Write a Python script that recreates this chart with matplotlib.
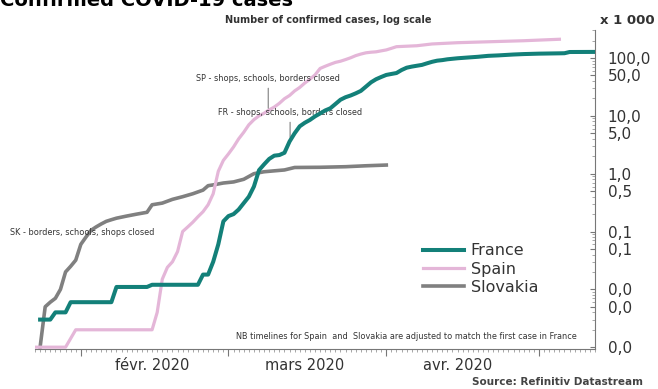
import matplotlib
matplotlib.use("Agg")
import matplotlib.pyplot as plt
import matplotlib.dates as mdates
import pandas as pd
from matplotlib.ticker import FixedLocator, LogLocator, NullFormatter, FuncFormatter

# days since the first French case (24 Jan 2020) and confirmed cases
fr_days = [0, 2, 3, 5, 6, 14, 15, 21, 22, 31, 32, 33, 34, 35, 36, 37, 38, 39, 40, 41,
           42, 43, 44, 45, 46, 47, 48, 49, 50, 51, 52, 53, 54, 55, 56, 57, 58, 59, 60, 61,
           62, 63, 64, 65, 66, 67, 68, 69, 70, 71, 72, 73, 74, 75, 76, 77, 78, 79, 80, 81,
           82, 84, 86, 88, 90, 93, 95, 98, 102, 103, 104, 109]
fr_cases = [3, 3, 4, 4, 6, 6, 11, 11, 12, 12, 18, 18, 30, 60, 150, 185, 200, 240, 310, 400,
            600, 1150, 1450, 1800, 2050, 2100, 2300, 3600, 5000, 6600, 7600, 8500, 9800, 11000, 12400, 13500, 16000, 19000, 21000, 22500,
            24500, 27000, 32000, 38000, 43000, 47000, 51000, 53000, 55000, 62000, 68000, 71000, 73500, 76000, 81000, 86000, 90000, 92000, 95000, 97000,
            99000, 102000, 105000, 109000, 111000, 115000, 117000, 119000, 120500, 121000, 127000, 127500]

# Spain, shifted so its first case lines up with France
es_days = [-1, 5, 7, 22, 23, 24, 25, 26, 27, 28, 29, 30, 31, 32, 33, 34, 35, 36, 37, 38,
           39, 40, 41, 42, 43, 44, 45, 46, 47, 48, 49, 50, 51, 52, 53, 54, 55, 56, 57, 58,
           59, 60, 61, 62, 63, 64, 65, 66, 67, 68, 69, 70, 72, 74, 77, 82, 89, 95, 102]
es_cases = [1, 1, 2, 2, 4, 15, 24, 30, 45, 100, 120, 145, 180, 220, 290, 450, 1100, 1700, 2200, 2900,
            4000, 5200, 7000, 8600, 10000, 11100, 12700, 14200, 16500, 19800, 22500, 27000, 31000, 37000, 43000, 51000, 66000, 72000, 78000, 84000,
            88000, 94000, 101000, 110000, 117000, 123000, 126000, 128000, 133000, 138000, 147000, 157000, 160000, 163000, 175000, 184000, 192000, 199000, 211000]

# Slovakia, shifted the same way
sk_days = [0, 1, 2, 3, 4, 5, 6, 7, 8, 9, 10, 11, 12, 13, 14, 15, 17, 19, 21, 22,
           24, 26, 28, 30, 32, 33, 34, 36, 38, 40, 42, 44, 46, 48, 50, 55, 60, 64, 68]
sk_cases = [1, 5, 6, 7, 10, 20, 25, 32, 60, 80, 105, 120, 135, 150, 160, 170, 185, 200, 215, 290,
            310, 360, 400, 450, 520, 620, 640, 690, 720, 800, 1000, 1080, 1120, 1160, 1280, 1290, 1320, 1370, 1410]

y_ticks = [0.001, 0.005, 0.01, 0.05, 0.1, 0.5, 1, 5, 10, 50, 100]
month_labels = ["févr. 2020", "mars 2020", "avr. 2020"]
month_mid = ["2020-02-15", "2020-03-16", "2020-04-15"]

start = pd.Timestamp("2020-01-24")


def to_dates(days):
    return start + pd.to_timedelta(days, unit="D")


fig = plt.figure(figsize=(6.58, 3.89), dpi=100)
ax = fig.add_axes([0.0532, 0.1028, 0.8511, 0.8190])

ax.plot(to_dates(sk_days), [c / 1000 for c in sk_cases], color="#808080", lw=2.6, label="Slovakia", zorder=2)
ax.plot(to_dates(es_days), [c / 1000 for c in es_cases], color="#e4b6d8", lw=2.3, label="Spain", zorder=3)
ax.plot(to_dates(fr_days), [c / 1000 for c in fr_cases], color="#138079", lw=2.9, label="France", zorder=4)

ax.set_yscale("log")
ax.set_ylim(0.00093, 300)
ax.set_xlim(to_dates(-1), to_dates(109))

# right hand axis only
ax.yaxis.tick_right()
ax.yaxis.set_major_locator(FixedLocator(y_ticks))
ax.yaxis.set_major_formatter(FuncFormatter(lambda v, p: f"{v:.1f}".replace(".", ",")))
ax.yaxis.set_minor_locator(LogLocator(base=10, subs=[2, 3, 4, 6, 7, 8, 9], numticks=20))
ax.yaxis.set_minor_formatter(NullFormatter())
ax.tick_params(axis="y", which="major", direction="in", length=3.5, pad=9,
               labelsize=11, color="#777777", labelcolor="#333333")
ax.tick_params(axis="y", which="minor", direction="in", length=2, color="#999999")

ax.xaxis.set_major_locator(mdates.MonthLocator())
ax.xaxis.set_major_formatter(NullFormatter())
ax.xaxis.set_minor_locator(mdates.DayLocator())
ax.tick_params(axis="x", which="major", direction="out", length=5, color="#777777")
ax.tick_params(axis="x", which="minor", direction="out", length=2.5, color="#999999")

for m, lab in zip(month_mid, month_labels):
    ax.text(pd.Timestamp(m), -0.053, lab, transform=ax.get_xaxis_transform(),
            ha="center", va="center", fontsize=10.5, color="#333333")

for s in ["left", "top"]:
    ax.spines[s].set_visible(False)
for s in ["right", "bottom"]:
    ax.spines[s].set_color("#777777")
    ax.spines[s].set_linewidth(0.8)

# policy notes
note = dict(fontsize=5.9, color="#333333", ha="center", va="center")
ax.annotate("SP - shops, schools, borders closed", xy=(to_dates(44.8), 12.1),
            xytext=(to_dates(44.8), 45), arrowprops=dict(arrowstyle="-", lw=0.6, color="#555555"), **note)
ax.annotate("FR - shops, schools, borders closed", xy=(to_dates(49.1), 3.8),
            xytext=(to_dates(49.1), 11.6), arrowprops=dict(arrowstyle="-", lw=0.6, color="#555555"), **note)
ax.text(to_dates(8.25), 0.098, "SK - borders, schools, shops closed", **note)
ax.text(0.6625, 0.038, "NB timelines for Spain  and  Slovakia are adjusted to match the first case in France",
        transform=ax.transAxes, **note)

h, l = ax.get_legend_handles_labels()
ax.legend(h[::-1], l[::-1], loc="center left", bbox_to_anchor=(0.693, 0.251), frameon=False,
          borderpad=0, borderaxespad=0, fontsize=11.5, handlelength=2.55, handletextpad=0.44,
          labelspacing=0.2, labelcolor="#333333")

# title is partly cropped at the top, as in the source image
fig.text(0.0, 1 - 6 / 389, "Confirmed COVID-19 cases", fontsize=14, fontweight="bold", va="baseline", ha="left")
fig.text(0.4985, 1 - 20 / 389, "Number of confirmed cases, log scale", fontsize=7, fontweight="bold",
         va="center", ha="center", color="#333333")
fig.text(0.995, 1 - 20 / 389, "x 1 000", fontsize=9.5, fontweight="bold", va="center", ha="right", color="#333333")
fig.text(0.977, 1 - 382 / 389, "Source: Refinitiv Datastream", fontsize=7.5, fontweight="bold",
         va="center", ha="right", color="#444444")

fig.savefig("out.png", dpi=100)
